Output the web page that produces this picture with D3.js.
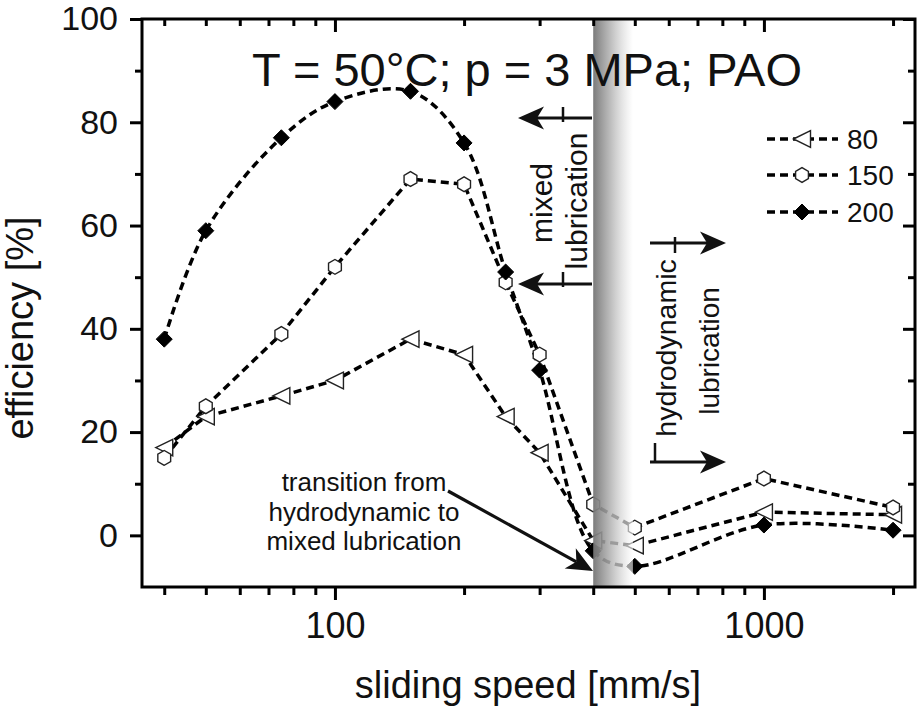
<!DOCTYPE html>
<html><head><meta charset="utf-8">
<script src="https://cdn.jsdelivr.net/npm/d3@7"></script>
<style>
body{margin:0;background:#fff}
svg{display:block}
text{font-family:"Liberation Sans",Arial,Helvetica,sans-serif;fill:#111}
</style>
</head><body>
<svg id="chart" width="918" height="708"></svg>
<script>
// ---- data ----
const speeds  = [40, 50, 75, 100, 150, 200, 250, 300, 400, 500, 1000, 2000];
const eff80   = [17, 23, 27, 30, 38, 35, 23, 16, -1, -2, 4.5, 4];
const eff150  = [15, 25, 39, 52, 69, 68, 49, 35, 6, 1.5, 11, 5.4];
const eff200  = [38, 59, 77, 84, 86, 76, 51, 32, -3, -6, 2, 1];
const seriesNames = ["80", "150", "200"];
const yTicks  = [0, 20, 40, 60, 80, 100];
const yMinor  = [10, 30, 50, 70, 90];
const xTicks  = [100, 1000];
const xMinor  = [40, 50, 60, 70, 80, 90, 200, 300, 400, 500, 600, 700, 800, 900, 2000];
const xDomain = [35.5, 2250];
const yDomain = [-10, 100];
const transitionBand = [400, 495];
const titleText = "T = 50°C; p = 3 MPa; PAO";
const xLabel = "sliding speed [mm/s]";
const yLabel = "efficiency [%]";
const noteLines = ["transition from", "hydrodynamic to", "mixed lubrication"];

// ---- layout ----
const L = 142, R = 915, T = 19, B = 587;
const svg = d3.select("#chart");
const x = d3.scaleLog().domain(xDomain).range([L, R]);
const y = d3.scaleLinear().domain(yDomain).range([B, T]);

// gradient
const defs = svg.append("defs");
const grad = defs.append("linearGradient").attr("id", "band").attr("x1", "0").attr("x2", "1").attr("y1", "0").attr("y2", "0");
grad.append("stop").attr("offset", "0").attr("stop-color", "#747474").attr("stop-opacity", 0.95);
grad.append("stop").attr("offset", "0.45").attr("stop-color", "#b4b4b4").attr("stop-opacity", 0.85);
grad.append("stop").attr("offset", "1").attr("stop-color", "#ffffff").attr("stop-opacity", 0.6);

// markers
function markerPath(kind) {
  if (kind === "80") {
    return "M-8.5,0L8.5,-8.3L8.5,8.3Z";
  } else if (kind === "150") {
    const r = 7.4, pts = [];
    for (let i = 0; i < 6; i++) {
      const a = Math.PI / 2 + i * Math.PI / 3;
      pts.push([r * Math.cos(a), r * Math.sin(a)]);
    }
    return "M" + pts.map(p => p[0].toFixed(2) + "," + p[1].toFixed(2)).join("L") + "Z";
  } else {
    return "M0,-8L8,0L0,8L-8,0Z";
  }
}
function styleMarker(sel, kind) {
  if (kind === "200") sel.attr("fill", "#000").attr("stroke", "#000").attr("stroke-width", 1);
  else sel.attr("fill", "#fff").attr("stroke", "#222").attr("stroke-width", 1.4);
}

const series = [
  {name: seriesNames[0], vals: eff80, curve: d3.curveLinear},
  {name: seriesNames[1], vals: eff150, curve: d3.curveLinear},
  {name: seriesNames[2], vals: eff200, curve: d3.curveCatmullRom.alpha(0.5)}
];

const plot = svg.append("g");
series.forEach(s => {
  const pts = speeds.map((v, i) => [v, s.vals[i]]);
  const line = d3.line().x(d => x(d[0])).y(d => y(d[1])).curve(s.curve);
  plot.append("path").attr("d", line(pts)).attr("fill", "none")
    .attr("stroke", "#000").attr("stroke-width", 3.5).attr("stroke-dasharray", "8,5");
});
series.forEach(s => {
  speeds.forEach((v, i) => {
    const m = plot.append("path").attr("d", markerPath(s.name))
      .attr("transform", `translate(${x(v)},${y(s.vals[i])})`);
    styleMarker(m, s.name);
  });
});

// transition band (over the lines)
svg.append("rect")
  .attr("x", x(transitionBand[0])).attr("y", T)
  .attr("width", x(transitionBand[1]) - x(transitionBand[0])).attr("height", B - T)
  .attr("fill", "url(#band)");

// ---- axes ----
function styleAxis(g) {
  g.select(".domain").remove();
  g.selectAll(".tick line").attr("stroke", "#000").attr("stroke-width", 3);
  g.selectAll(".tick text").attr("fill", "#111").attr("font-family", "Liberation Sans, Arial, sans-serif");
}
const fmt = d3.format("d");
svg.append("g").attr("transform", `translate(0,${B})`)
  .call(d3.axisBottom(x).tickValues(xTicks).tickSize(13).tickPadding(12).tickFormat(fmt))
  .call(styleAxis).call(g => g.selectAll("text").attr("font-size", 36));
svg.append("g").attr("transform", `translate(0,${B})`)
  .call(d3.axisBottom(x).tickValues(xMinor).tickSize(8).tickFormat(""))
  .call(styleAxis);
svg.append("g").attr("transform", `translate(0,${T})`)
  .call(d3.axisTop(x).tickValues(xTicks).tickSize(-13).tickFormat(""))
  .call(styleAxis);
svg.append("g").attr("transform", `translate(0,${T})`)
  .call(d3.axisTop(x).tickValues(xMinor).tickSize(-7).tickFormat(""))
  .call(styleAxis);
svg.append("g").attr("transform", `translate(${L},0)`)
  .call(d3.axisLeft(y).tickValues(yTicks).tickSize(12).tickPadding(12).tickFormat(fmt))
  .call(styleAxis).call(g => g.selectAll("text").attr("font-size", 34));
svg.append("g").attr("transform", `translate(${L},0)`)
  .call(d3.axisLeft(y).tickValues(yMinor).tickSize(7).tickFormat(""))
  .call(styleAxis);
svg.append("g").attr("transform", `translate(${R},0)`)
  .call(d3.axisRight(y).tickValues(yTicks).tickSize(-12).tickFormat(""))
  .call(styleAxis);
svg.append("g").attr("transform", `translate(${R},0)`)
  .call(d3.axisRight(y).tickValues(yMinor).tickSize(-7).tickFormat(""))
  .call(styleAxis);

// frame
svg.append("rect").attr("x", L).attr("y", T).attr("width", R - L).attr("height", B - T)
  .attr("fill", "none").attr("stroke", "#000").attr("stroke-width", 3);

// axis titles
svg.append("text").attr("x", 528).attr("y", 698).attr("text-anchor", "middle")
  .attr("font-size", 38).text(xLabel);
svg.append("text").attr("transform", "translate(33,328) rotate(-90)").attr("text-anchor", "middle")
  .attr("font-size", 38).text(yLabel);

// title
svg.append("text").attr("x", 527).attr("y", 86).attr("text-anchor", "middle")
  .attr("font-size", 47).text(titleText);

// ---- legend ----
const lg = svg.append("g");
const legendYs = [139, 175, 212];
series.forEach((s, i) => {
  const ly = legendYs[i];
  lg.append("line").attr("x1", 767).attr("x2", 838).attr("y1", ly).attr("y2", ly)
    .attr("stroke", "#000").attr("stroke-width", 3.5).attr("stroke-dasharray", "8,5");
  const m = lg.append("path").attr("d", markerPath(s.name)).attr("transform", `translate(802,${ly})`);
  styleMarker(m, s.name);
  lg.append("text").attr("x", 847).attr("y", ly).attr("dy", "0.36em").attr("font-size", 28).text(s.name);
});

// ---- annotations ----
function arrow(x1, y1, x2, y2) {
  const dx = x2 - x1, dy = y2 - y1, len = Math.hypot(dx, dy);
  const ux = dx / len, uy = dy / len, nx = -uy, ny = ux;
  const hl = 26, hw = 11.5, notch = 19;
  const bx = x2 - ux * hl, by = y2 - uy * hl;
  const nxp = x2 - ux * notch, nyp = y2 - uy * notch;
  svg.append("line").attr("x1", x1).attr("y1", y1).attr("x2", nxp).attr("y2", nyp)
    .attr("stroke", "#111").attr("stroke-width", 3.2);
  svg.append("path")
    .attr("d", `M${x2},${y2}L${bx + nx * hw},${by + ny * hw}L${nxp},${nyp}L${bx - nx * hw},${by - ny * hw}Z`)
    .attr("fill", "#111");
}
function bar(x0, y0, y1) {
  svg.append("line").attr("x1", x0).attr("x2", x0).attr("y1", y0).attr("y2", y1)
    .attr("stroke", "#111").attr("stroke-width", 2.5);
}
// mixed lubrication (pointing left)
arrow(592, 118, 518, 118);
arrow(592, 284, 518, 284);
bar(563, 107, 122);
bar(563, 272, 287);
svg.append("text").attr("transform", "translate(552,203) rotate(-90)").attr("text-anchor", "middle")
  .attr("font-size", 30).text("mixed");
svg.append("text").attr("transform", "translate(587,201) rotate(-90)").attr("text-anchor", "middle")
  .attr("font-size", 30).text("lubrication");
// hydrodynamic lubrication (pointing right)
arrow(650, 243, 726, 243);
arrow(650, 462, 726, 462);
bar(675, 237, 253);
bar(655, 443, 463);
svg.append("text").attr("transform", "translate(676,348) rotate(-90)").attr("text-anchor", "middle")
  .attr("font-size", 28.5).text("hydrodynamic");
svg.append("text").attr("transform", "translate(719,351) rotate(-90)").attr("text-anchor", "middle")
  .attr("font-size", 28).text("lubrication");

// transition note
noteLines.forEach((t, i) => {
  svg.append("text").attr("x", 364).attr("y", 491 + i * 29.5).attr("text-anchor", "middle")
    .attr("font-size", 26).text(t);
});
arrow(448, 491, 593, 571);
</script>
</body></html>
